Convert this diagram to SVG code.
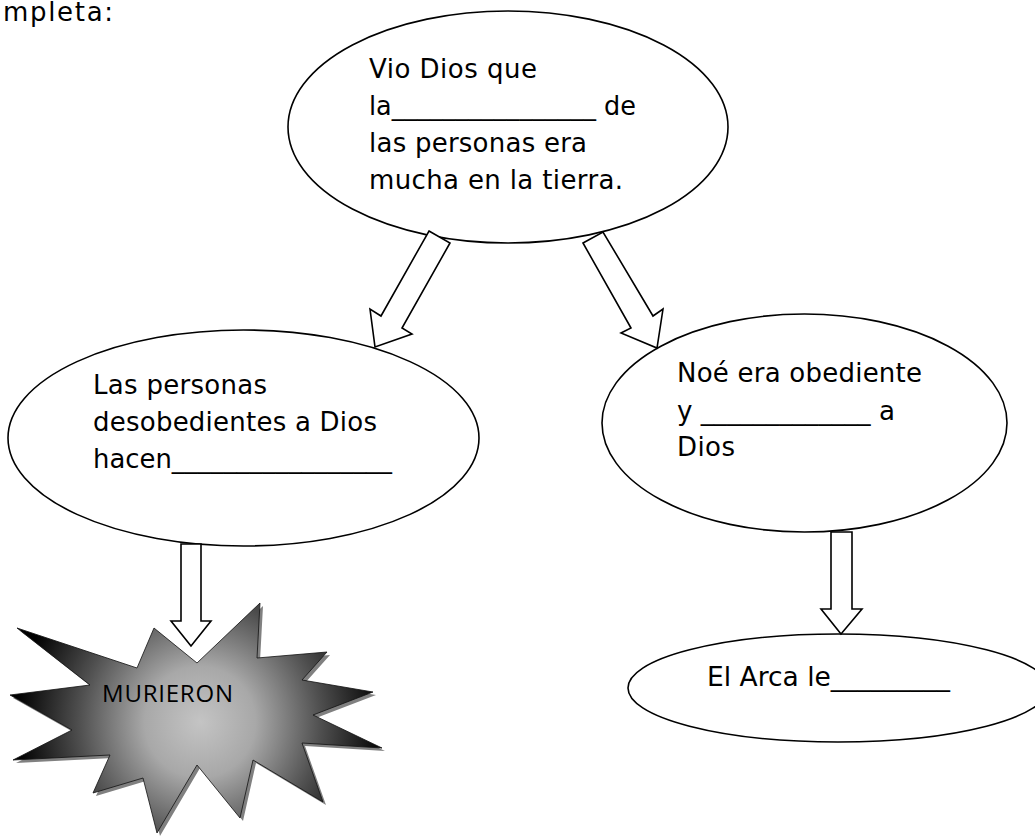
<svg xmlns="http://www.w3.org/2000/svg" width="1035" height="838" viewBox="0 0 1035 838">
<defs>
<style>
.shape{fill:#fff;stroke:#000;stroke-width:1.6}
.arrow{fill:#fff;stroke:#000;stroke-width:1.6;stroke-linejoin:miter}
.t{font-family:"DejaVu Sans","Verdana",sans-serif;font-size:26px;fill:#000}
.m{font-family:"Open Sans","Liberation Sans",sans-serif;font-size:24px;fill:#000}
</style>
<radialGradient id="burst" gradientUnits="userSpaceOnUse" cx="200" cy="722" r="185">
<stop offset="0" stop-color="#c4c4c4"/>
<stop offset="0.3" stop-color="#a8a8a8"/>
<stop offset="0.65" stop-color="#505050"/>
<stop offset="1" stop-color="#000"/>
</radialGradient>
</defs>
<rect width="1035" height="838" fill="#fff"/>
<text class="t" x="3" y="21" textLength="110">mpleta:</text>

<g id="node-top">
<ellipse class="shape" cx="508" cy="127" rx="220" ry="116"/>
<text class="t" x="369" y="78" textLength="168">Vio Dios que</text>
<text class="t" x="369" y="115" textLength="267" lengthAdjust="spacingAndGlyphs">la________________ de</text>
<text class="t" x="369" y="152" textLength="218">las personas era</text>
<text class="t" x="369" y="189" textLength="254">mucha en la tierra.</text>
</g>

<g id="node-left">
<ellipse class="shape" cx="243.5" cy="438" rx="235.5" ry="108"/>
<text class="t" x="93" y="394" textLength="174">Las personas</text>
<text class="t" x="93" y="431" textLength="284">desobedientes a Dios</text>
<text class="t" x="93" y="468" textLength="299" lengthAdjust="spacingAndGlyphs">hacen_________________</text>
</g>

<g id="node-right">
<ellipse class="shape" cx="804.5" cy="423" rx="202.5" ry="109"/>
<text class="t" x="677" y="382" textLength="245">Noé era obediente</text>
<text class="t" x="677" y="420" textLength="218" lengthAdjust="spacingAndGlyphs">y _____________ a</text>
<text class="t" x="677" y="456" textLength="58">Dios</text>
</g>

<g id="node-arca">
<ellipse class="shape" cx="838" cy="688" rx="210" ry="54"/>
<text class="t" x="707" y="686" textLength="243" lengthAdjust="spacingAndGlyphs">El Arca le_________</text>
</g>

<g id="node-murieron">
<polygon transform="translate(3,3)" fill="#808080" points="17,628 137,668 154,628 197,663 260,603 257,658 327,652 302,680 373,692 313,715 382,748 302,743 323,802 253,760 240,818 197,765 157,833 143,778 93,793 110,755 13,760 72,730 10,695 90,685"/>
<polygon fill="url(#burst)" stroke="#111" stroke-width="0.8" points="17,628 137,668 154,628 197,663 260,603 257,658 327,652 302,680 373,692 313,715 382,748 302,743 323,802 253,760 240,818 197,765 157,833 143,778 93,793 110,755 13,760 72,730 10,695 90,685"/>
<text class="m" x="102" y="702" textLength="131">MURIERON</text>
</g>

<g id="connectors">
<polygon class="arrow" points="429,231 450,243 402,328 412,334 375,347 370,309 381,316"/>
<polygon class="arrow" points="583,243 603,232 653,316 663,309 657,348 621,333 631,328"/>
<polygon class="arrow" points="181,544 201,544 201,621 211,621 191,646 171,621 181,621"/>
<polygon class="arrow" points="831,532 852,532 852,609 862,609 841,634 821,609 831,609"/>
</g>
</svg>
